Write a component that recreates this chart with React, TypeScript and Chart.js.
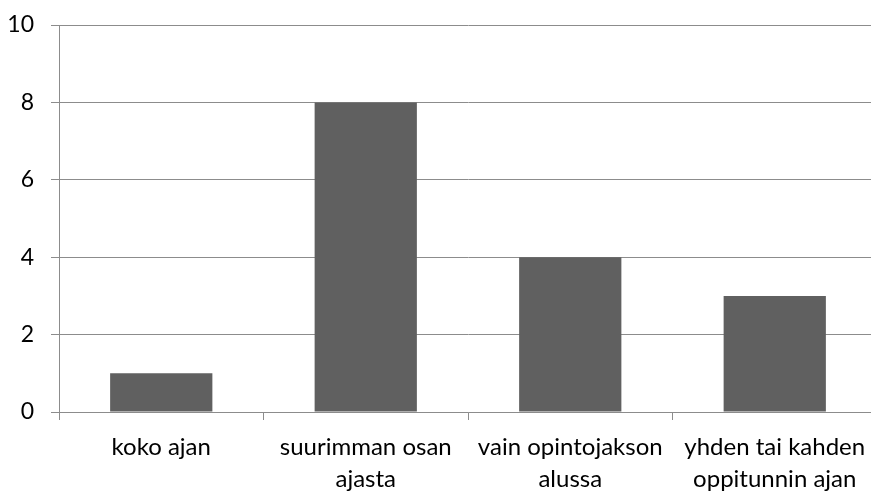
import React, { useEffect, useRef } from "react";
import { Chart, registerables } from "chart.js";

Chart.register(...registerables);

const categories: string[][] = [
  ["koko ajan"],
  ["suurimman osan", "ajasta"],
  ["vain opintojakson", "alussa"],
  ["yhden tai kahden", "oppitunnin ajan"],
];
const values: number[] = [1, 8, 4, 3];
const yMin = 0;
const yMax = 10;
const yStep = 2;

const FONT = "Lato, 'Open Sans', sans-serif";
const GRID = "#8c8c8c";
const BAR = "#606060";

export default function App() {
  const ref = useRef<HTMLCanvasElement | null>(null);
  useEffect(() => {
    document.body.style.margin = "0";
    const canvas = ref.current!;
    const chart = new Chart(canvas, {
      type: "bar",
      data: {
        labels: categories,
        datasets: [
          {
            data: values,
            backgroundColor: BAR,
            borderWidth: 0,
            categoryPercentage: 1,
            barPercentage: 0.5,
          },
        ],
      },
      options: {
        responsive: false,
        animation: false,
        devicePixelRatio: 1,
        layout: { padding: { top: 25, left: 0, right: 0, bottom: 0 } },
        plugins: { legend: { display: false }, tooltip: { enabled: false } },
        scales: {
          x: {
            grid: {
              drawOnChartArea: false,
              drawTicks: true,
              tickLength: 8,
              color: GRID,
              offset: true,
            },
            border: { display: true, color: GRID },
            ticks: {
              color: "#000",
              font: { family: FONT, size: 24, lineHeight: "32px" },
              padding: 11,
              maxRotation: 0,
              autoSkip: false,
            },
            afterFit: (s: any) => {
              s.height = 79;
              s.paddingLeft = 0;
              s.paddingRight = 0;
            },
          },
          y: {
            min: yMin,
            max: yMax,
            grid: { color: GRID, tickLength: 8, drawTicks: true },
            border: { display: true, color: GRID },
            ticks: {
              stepSize: yStep,
              color: "#000",
              font: { family: FONT, size: 23 },
              padding: 17,
            },
            afterFit: (s: any) => {
              s.width = 59;
              s.paddingTop = 0;
              s.paddingBottom = 0;
            },
          },
        },
      },
    });
    return () => chart.destroy();
  }, []);
  return (
    <div style={{ position: "absolute", left: 0, top: 0, width: 871, height: 491, overflow: "hidden", background: "#fff" }}>
      <canvas ref={ref} width={877} height={491} style={{ display: "block" }} />
    </div>
  );
}
